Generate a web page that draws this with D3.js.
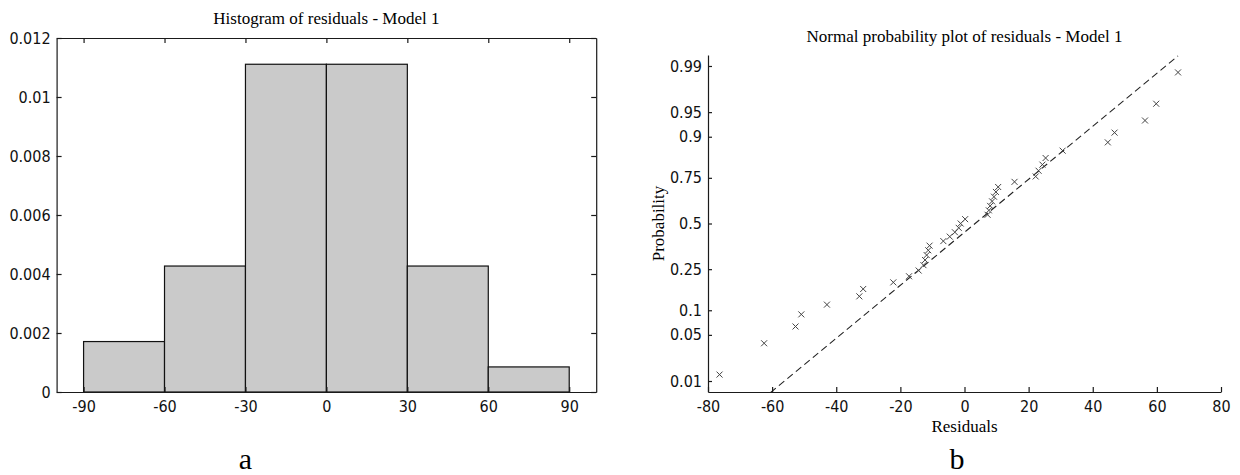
<!DOCTYPE html>
<html>
<head>
<meta charset="utf-8">
<script src="https://cdn.jsdelivr.net/npm/d3@7"></script>
<style>
  body { margin: 0; background: #fff; }
  .axis .domain, .axis .tick line { stroke: #1a1a1a; stroke-width: 1.2; }
  .axis text { fill: #111; }
</style>
</head>
<body>
<div id="chart"></div>
<script>
// histogram data (density per bin)
var binEdges = [-90, -60, -30, 0, 30, 60, 90];
var binDensity = [0.00171, 0.00427, 0.01111, 0.01111, 0.00427, 0.00085];
var histXTicks = [-90, -60, -30, 0, 30, 60, 90];
var histYTicks = [0, 0.002, 0.004, 0.006, 0.008, 0.01, 0.012];

// sorted residuals for the normal probability plot
var residuals = [-76.4, -62.5, -52.7, -50.9, -42.9, -32.8, -31.6, -22.2, -17.3, -14.3,
  -12.8, -12.3, -11.8, -11.3, -10.9, -6.6, -4.6, -3.0, -1.8, -1.2,
  0.2, 7.2, 7.6, 8.0, 8.6, 9.2, 9.8, 10.5, 15.6, 22.2,
  23.1, 24.3, 25.3, 30.6, 44.7, 46.8, 56.3, 59.8, 66.6];
var probTicks = [0.01, 0.05, 0.1, 0.25, 0.5, 0.75, 0.9, 0.95, 0.99];
var qqXTicks = [-80, -60, -40, -20, 0, 20, 40, 60, 80];

var svgWidth = 1240;
var svgHeight = 475;

var hist = { left: 56.6, right: 596.2, top: 38, bottom: 392 };
var qq = { left: 708, right: 1221, top: 55, bottom: 392 };

var serif = "'Liberation Serif', 'Times New Roman', serif";
var tickFont = "'Liberation Sans Narrow', 'DejaVu Sans Condensed', sans-serif";

var svg = d3.select("#chart")
  .append("svg")
  .attr("width", svgWidth)
  .attr("height", svgHeight);

// inverse normal cdf (Acklam), used for the probability axis
function probit(p) {
  var a = [-3.969683028665376e+01, 2.209460984245205e+02, -2.759285104469687e+02, 1.383577518672690e+02, -3.066479806614716e+01, 2.506628277459239e+00];
  var b = [-5.447609879822406e+01, 1.615858368580409e+02, -1.556989798598866e+02, 6.680131188771972e+01, -1.328068155288572e+01];
  var c = [-7.784894002430293e-03, -3.223964580411365e-01, -2.400758277161838e+00, -2.549732539343734e+00, 4.374664141464968e+00, 2.938163982698783e+00];
  var d = [7.784695709041462e-03, 3.224671290700398e-01, 2.445134137142996e+00, 3.754408661907416e+00];
  var pl = 0.02425, q, r;
  if (p < pl) {
    q = Math.sqrt(-2 * Math.log(p));
    return (((((c[0]*q+c[1])*q+c[2])*q+c[3])*q+c[4])*q+c[5]) / ((((d[0]*q+d[1])*q+d[2])*q+d[3])*q+1);
  }
  if (p > 1 - pl) {
    q = Math.sqrt(-2 * Math.log(1 - p));
    return -(((((c[0]*q+c[1])*q+c[2])*q+c[3])*q+c[4])*q+c[5]) / ((((d[0]*q+d[1])*q+d[2])*q+d[3])*q+1);
  }
  q = p - 0.5; r = q * q;
  return (((((a[0]*r+a[1])*r+a[2])*r+a[3])*r+a[4])*r+a[5])*q / (((((b[0]*r+b[1])*r+b[2])*r+b[3])*r+b[4])*r+1);
}

// matlab style percentile on sorted data
function prctile(s, p) {
  var pos = p * s.length + 0.5;
  var i = Math.floor(pos);
  var f = pos - i;
  return s[i - 1] + f * (s[i] - s[i - 1]);
}

// plain hyphen for negative numbers, like the original
var plain = d => String(d);

// ---------- a: histogram ----------
var hx = d3.scaleLinear().domain([-100, 100]).range([hist.left, hist.right]);
var hy = d3.scaleLinear().domain([0, 0.012]).range([hist.bottom, hist.top]);

var histGroup = svg.append("g");

histGroup.selectAll("rect.bar")
  .data(binDensity)
  .enter()
  .append("rect")
  .attr("class", "bar")
  .attr("x", (d, i) => hx(binEdges[i]))
  .attr("y", d => hy(d))
  .attr("width", (d, i) => hx(binEdges[i + 1]) - hx(binEdges[i]))
  .attr("height", d => hy(0) - hy(d))
  .attr("fill", "#cacaca")
  .attr("stroke", "#111")
  .attr("stroke-width", 1.2);

histGroup.append("g")
  .attr("class", "axis")
  .attr("transform", `translate(0, ${hist.bottom})`)
  .call(d3.axisBottom(hx).tickValues(histXTicks).tickSize(-5).tickSizeOuter(0).tickPadding(9).tickFormat(plain))
  .attr("font-family", tickFont).attr("font-size", 16);

histGroup.append("g")
  .attr("class", "axis")
  .attr("transform", `translate(0, ${hist.top})`)
  .call(d3.axisTop(hx).tickValues(histXTicks).tickSize(-5).tickSizeOuter(0).tickFormat(""));

histGroup.append("g")
  .attr("class", "axis")
  .attr("transform", `translate(${hist.left}, 0)`)
  .call(d3.axisLeft(hy).tickValues(histYTicks).tickSize(-5).tickSizeOuter(0).tickPadding(6)
    .tickFormat(d => d === 0 ? "0" : String(+d.toFixed(3))))
  .attr("font-family", tickFont).attr("font-size", 16);

histGroup.append("g")
  .attr("class", "axis")
  .attr("transform", `translate(${hist.right}, 0)`)
  .call(d3.axisRight(hy).tickValues(histYTicks).tickSize(-5).tickSizeOuter(0).tickFormat(""));

histGroup.append("text")
  .attr("x", (hist.left + hist.right) / 2)
  .attr("y", 24)
  .attr("text-anchor", "middle")
  .attr("font-family", serif)
  .attr("font-size", 17)
  .text("Histogram of residuals - Model 1");

histGroup.append("text")
  .attr("x", hx(-30))
  .attr("y", 469)
  .attr("text-anchor", "middle")
  .attr("font-family", serif)
  .attr("font-size", 30)
  .text("a");

// ---------- b: normal probability plot ----------
var n = residuals.length;
var zLim = probit(1 - 0.25 / n);
var qx = d3.scaleLinear().domain([-80, 80]).range([qq.left, qq.right]);
var qz = d3.scaleLinear().domain([-zLim, zLim]).range([qq.bottom, qq.top]);

var qqGroup = svg.append("g");

qqGroup.append("clipPath")
  .attr("id", "qqClip")
  .append("rect")
  .attr("x", qq.left).attr("y", qq.top)
  .attr("width", qq.right - qq.left).attr("height", qq.bottom - qq.top);

// reference line through the quartiles
var q1 = prctile(residuals, 0.25);
var q3 = prctile(residuals, 0.75);
var slope = (probit(0.75) - probit(0.25)) / (q3 - q1);
var refX = [d3.min(residuals), d3.max(residuals)];

qqGroup.append("path")
  .datum(refX)
  .attr("clip-path", "url(#qqClip)")
  .attr("d", d3.line()
    .x(d => qx(d))
    .y(d => qz(probit(0.25) + (d - q1) * slope)))
  .attr("fill", "none")
  .attr("stroke", "#222")
  .attr("stroke-width", 1.1)
  .attr("stroke-dasharray", "7,4");

qqGroup.selectAll("path.pt")
  .data(residuals)
  .enter()
  .append("path")
  .attr("class", "pt")
  .attr("transform", (d, i) => `translate(${qx(d)}, ${qz(probit((i + 0.5) / n))})`)
  .attr("d", "M-3,-3L3,3M-3,3L3,-3")
  .attr("stroke", "#444")
  .attr("stroke-width", 1);

qqGroup.append("g")
  .attr("class", "axis")
  .attr("transform", `translate(0, ${qq.bottom})`)
  .call(d3.axisBottom(qx).tickValues(qqXTicks).tickSize(-5).tickSizeOuter(0).tickPadding(9).tickFormat(plain))
  .attr("font-family", tickFont).attr("font-size", 16);

qqGroup.append("g")
  .attr("class", "axis")
  .attr("transform", `translate(${qq.left}, 0)`)
  .call(d3.axisLeft(d3.scaleLinear().domain(qz.domain()).range(qz.range()))
    .tickValues(probTicks.map(probit)).tickSize(-4).tickSizeOuter(0).tickPadding(6)
    .tickFormat((d, i) => String(probTicks[i])))
  .attr("font-family", tickFont).attr("font-size", 16);

qqGroup.append("text")
  .attr("x", (qq.left + qq.right) / 2)
  .attr("y", 42)
  .attr("text-anchor", "middle")
  .attr("font-family", serif)
  .attr("font-size", 17)
  .text("Normal probability plot of residuals - Model 1");

qqGroup.append("text")
  .attr("x", (qq.left + qq.right) / 2)
  .attr("y", 432)
  .attr("text-anchor", "middle")
  .attr("font-family", serif)
  .attr("font-size", 17)
  .text("Residuals");

qqGroup.append("text")
  .attr("transform", `translate(664, ${(qq.top + qq.bottom) / 2}) rotate(-90)`)
  .attr("text-anchor", "middle")
  .attr("font-family", serif)
  .attr("font-size", 17)
  .text("Probability");

qqGroup.append("text")
  .attr("x", 957)
  .attr("y", 469)
  .attr("text-anchor", "middle")
  .attr("font-family", serif)
  .attr("font-size", 30)
  .text("b");
</script>
</body>
</html>
